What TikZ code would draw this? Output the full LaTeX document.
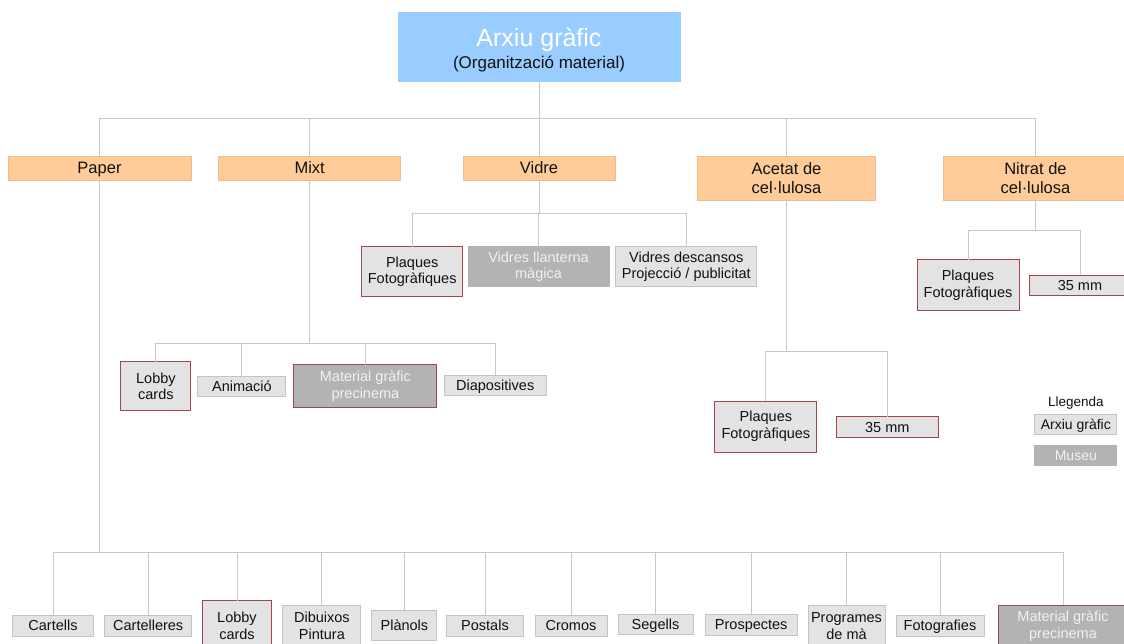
\documentclass[tikz,border=0pt]{standalone}
\usepackage{fontspec}
\setmainfont{Liberation Sans}
\definecolor{rootc}{HTML}{99CCFF}
\definecolor{catc}{HTML}{FFCC99}
\definecolor{catb}{HTML}{F0BE8C}
\definecolor{lightc}{HTML}{E3E3E3}
\definecolor{lightb}{HTML}{C4C4C4}
\definecolor{darkc}{HTML}{B3B3B3}
\definecolor{redb}{HTML}{A04848}
\definecolor{wirec}{HTML}{C8C8C8}
\definecolor{txt}{HTML}{111111}
\begin{document}
\begin{tikzpicture}[x=1pt,y=-1pt,
  wire/.style={draw=wirec, line width=0.9pt},
  sz/.style 2 args={minimum width=#1pt, minimum height=#2pt},
  one/.style={text height=#1pt, text depth=0pt},
  base/.style={inner sep=0pt, outer sep=0pt, align=center, line width=0.9pt},
  rootbox/.style={base, fill=rootc, draw=rootc},
  catbox/.style={base, fill=catc, draw=catb, text=txt, font=\fontsize{16.5}{18.5}\selectfont},
  arxbox/.style={base, fill=lightc, draw=lightb, text=txt, font=\fontsize{14.5}{16.7}\selectfont},
  arxred/.style={arxbox, draw=redb},
  musbox/.style={base, fill=darkc, draw=darkc, text=white!95!black, font=\fontsize{14.5}{16.7}\selectfont},
  musred/.style={musbox, draw=redb},
]
\useasboundingbox (0,0) rectangle (1124,644);

% root
\node[rootbox, sz={282}{69}] (root) at (539,47.2) {};
\node[text=white, font=\fontsize{25}{28}\selectfont, one=17.9] (roottitle) at (539,38) {Arxiu gràfic};
\node[text=txt, font=\fontsize{17}{20}\selectfont, one=12.2] (rootsub) at (539,62) {(Organització material)};

% material categories
\node[catbox, sz={183}{24}, one=11.8] (paper)  at (99.5,168) {Paper};
\node[catbox, sz={182}{24}, one=11.8] (mixt)   at (309.7,168) {Mixt};
\node[catbox, sz={152}{24}, one=11.8] (vidre)  at (539,168) {Vidre};
\node[catbox, sz={178}{44}] (acetat) at (786.5,178) {Acetat de\\cel·lulosa};
\node[catbox, sz={185}{44}] (nitrat) at (1035.5,178) {Nitrat de\\cel·lulosa};

% glass
\node[arxred, sz={101}{50}] (vplaq) at (412.2,271.9) {Plaques\\Fotogràfiques};
\node[musbox, sz={141}{40}] (vllan) at (538.5,266.7) {Vidres llanterna\\màgica};
\node[arxbox, sz={141}{40}] (vdesc) at (686.3,266.9) {Vidres descansos\\Projecció / publicitat};

% nitrate
\node[arxred, sz={102}{51}] (nplaq) at (968,285.4) {Plaques\\Fotogràfiques};
\node[arxred, sz={102}{20}, one=10.4] (nmm) at (1080,285.5) {35 mm};

% mixed
\node[arxred, sz={70}{49}]  (mlobby) at (155.9,386.4) {Lobby\\cards};
\node[arxbox, sz={88}{20}, one=10.4]  (manim) at (241.9,386.7) {Animació};
\node[musred, sz={143}{43}] (mmat)   at (365.4,386.4) {Material gràfic\\precinema};
\node[arxbox, sz={102}{20}, one=10.4] (mdiap) at (495.2,385.5) {Diapositives};

% acetate
\node[arxred, sz={102}{51}] (aplaq) at (765.9,426.5) {Plaques\\Fotogràfiques};
\node[arxred, sz={102}{21}, one=10.4] (amm) at (887.3,427) {35 mm};

% legend
\node[text=txt, font=\fontsize{13.5}{16}\selectfont, one=9.7] (legtitle) at (1075.8,401.7) {Llegenda};
\node[arxbox, sz={82}{20}, font=\fontsize{14}{16}\selectfont, one=10] (legarx) at (1075.8,424.3) {Arxiu gràfic};
\node[musbox, sz={82}{20}, font=\fontsize{14}{16}\selectfont, one=10] (legmus) at (1075.8,455) {Museu};

% paper
\node[arxbox, sz={81}{21}, one=10.4]   (b1)  at (53,625.5) {Cartells};
\node[arxbox, sz={87}{21}, one=10.4]   (b2)  at (148.2,625.5) {Cartelleres};
\node[arxred, sz={69}{51}]             (b3)  at (237,626) {Lobby\\cards};
\node[arxbox, sz={78}{42}]             (b4)  at (321.9,626) {Dibuixos\\Pintura};
\node[arxbox, sz={65}{30}, one=10.4]   (b5)  at (404.4,625) {Plànols};
\node[arxbox, sz={77}{21}, one=10.4]   (b6)  at (485,625.5) {Postals};
\node[arxbox, sz={72}{21}, one=10.4]   (b7)  at (571,625.5) {Cromos};
\node[arxbox, sz={75}{20}, one=10.4]   (b8)  at (655.5,624) {Segells};
\node[arxbox, sz={92.5}{21}, one=10.4] (b9)  at (751.2,624.5) {Prospectes};
\node[arxbox, sz={77}{42}]             (b10) at (846.5,626) {Programes\\de mà};
\node[arxbox, sz={88}{21}, one=10.4]   (b11) at (940,625.5) {Fotografies};
\node[musred, sz={130}{43}]            (b12) at (1063,626.5) {Material gràfic\\precinema};

% connector buses
\coordinate (busTop) at (0,118.3);
\coordinate (busV)   at (0,213.3);
\coordinate (busN)   at (0,230);
\coordinate (busM)   at (0,343.3);
\coordinate (busA)   at (0,351);
\coordinate (busP)   at (0,552.3);

\draw[wire] (root.south) -- (root.south |- busTop);
\draw[wire] (paper.north |- busTop) -- (nitrat.north |- busTop);
\foreach \n in {paper,mixt,vidre,acetat,nitrat}
  \draw[wire] (\n.north) -- (\n.north |- busTop);

\draw[wire] (vidre.south) -- (vidre.south |- busV);
\draw[wire] (vplaq.north |- busV) -- (vdesc.north |- busV);
\foreach \n in {vplaq,vllan,vdesc}
  \draw[wire] (\n.north) -- (\n.north |- busV);

\draw[wire] (nitrat.south) -- (nitrat.south |- busN);
\draw[wire] (nplaq.north |- busN) -- (nmm.north |- busN);
\foreach \n in {nplaq,nmm}
  \draw[wire] (\n.north) -- (\n.north |- busN);

\draw[wire] (mixt.south) -- (mixt.south |- busM);
\draw[wire] (mlobby.north |- busM) -- (mdiap.north |- busM);
\foreach \n in {mlobby,manim,mmat,mdiap}
  \draw[wire] (\n.north) -- (\n.north |- busM);

\draw[wire] (acetat.south) -- (acetat.south |- busA);
\draw[wire] (aplaq.north |- busA) -- (amm.north |- busA);
\foreach \n in {aplaq,amm}
  \draw[wire] (\n.north) -- (\n.north |- busA);

\draw[wire] (paper.south) -- (paper.south |- busP);
\draw[wire] (b1.north |- busP) -- (b12.north |- busP);
\foreach \n in {b1,b2,b3,b4,b5,b6,b7,b8,b9,b10,b11,b12}
  \draw[wire] (\n.north) -- (\n.north |- busP);
\end{tikzpicture}
\end{document}
